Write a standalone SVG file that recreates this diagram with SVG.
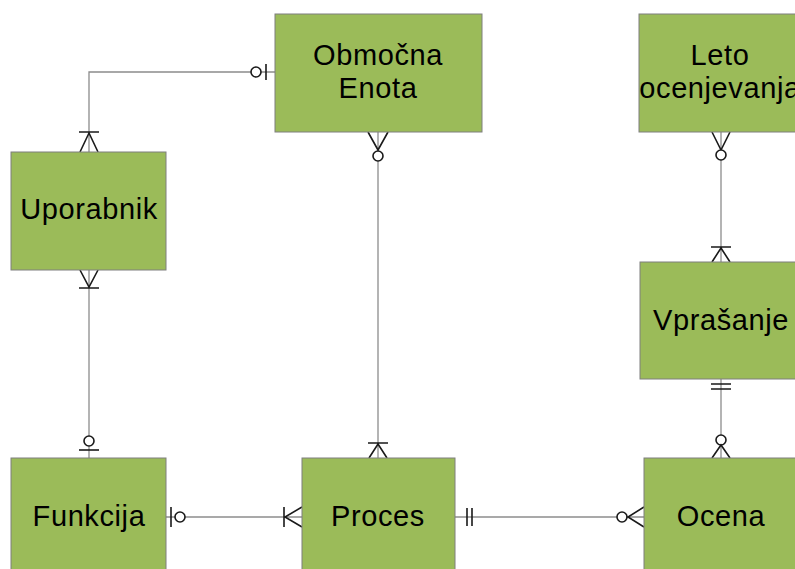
<svg xmlns="http://www.w3.org/2000/svg" width="795" height="569" viewBox="0 0 795 569">
  <style>
    .box { fill: #9bbb59; stroke: #7f7f7f; stroke-width: 1; }
    .lbl { font-family: "Liberation Sans", Arial, sans-serif; font-size: 29px; letter-spacing: 0.6px; fill: #000; text-anchor: middle; }
    .ln { fill: none; stroke: #8c8c8c; stroke-width: 1.3; }
    .mk { fill: none; stroke: #1a1a1a; stroke-width: 1.6; }
    .ring { fill: #fff; stroke: #1a1a1a; stroke-width: 1.6; }
  </style>
  <rect width="795" height="569" fill="#fff"/>

  <!-- relationship lines -->
  <g id="connectors">
    <path class="ln" d="M89,152 V72 H275"/>
    <path class="ln" d="M378,132 V458"/>
    <path class="ln" d="M89,270 V458"/>
    <path class="ln" d="M166,517 H302"/>
    <path class="ln" d="M455,517 H644"/>
    <path class="ln" d="M721,132 V262"/>
    <path class="ln" d="M721,379 V458"/>

    <!-- Uporabnik – Območna Enota -->
    <path class="mk" d="M266,64 V80"/>
    <circle class="ring" cx="256" cy="72" r="5"/>
    <path class="mk" d="M79,132 H99 M80,152 L89,133 L98,152"/>

    <!-- Območna Enota – Proces -->
    <path class="mk" d="M368,132 L378,150 L388,132"/>
    <circle class="ring" cx="378" cy="156" r="5"/>
    <path class="mk" d="M368,443 H388 M369,458 L378,444 L387,458"/>

    <!-- Uporabnik – Funkcija -->
    <path class="mk" d="M80,270 L89,287 L98,270 M79,288 H99"/>
    <circle class="ring" cx="89" cy="441" r="5"/>
    <path class="mk" d="M79,450 H99"/>

    <!-- Funkcija – Proces -->
    <path class="mk" d="M171,507 V527"/>
    <circle class="ring" cx="180" cy="517" r="5"/>
    <path class="mk" d="M284,507 V527 M302,507 L285,517 L302,527"/>

    <!-- Proces – Ocena -->
    <path class="mk" d="M467,508 V526 M472,508 V526"/>
    <circle class="ring" cx="622" cy="517" r="5"/>
    <path class="mk" d="M644,507 L628,517 L644,527"/>

    <!-- Leto ocenjevanja – Vprašanje -->
    <path class="mk" d="M712,132 L721,150 L730,132"/>
    <circle class="ring" cx="721" cy="155" r="5"/>
    <path class="mk" d="M711,247 H731 M712,262 L721,248 L730,262"/>

    <!-- Vprašanje – Ocena -->
    <path class="mk" d="M711,384 H731 M711,389 H731"/>
    <circle class="ring" cx="721" cy="440" r="5"/>
    <path class="mk" d="M712,458 L721,445 L730,458"/>
  </g>

  <g id="obmocna-enota">
    <rect class="box" x="275" y="14" width="207" height="118"/>
    <text class="lbl" x="378" y="65">Območna</text>
    <text class="lbl" x="378" y="98">Enota</text>
  </g>
  <g id="leto-ocenjevanja">
    <rect class="box" x="639" y="14" width="166" height="118"/>
    <text class="lbl" x="720" y="65">Leto</text>
    <text class="lbl" x="720" y="98">ocenjevanja</text>
  </g>
  <g id="uporabnik">
    <rect class="box" x="11" y="152" width="155" height="118"/>
    <text class="lbl" x="89" y="219">Uporabnik</text>
  </g>
  <g id="vprasanje">
    <rect class="box" x="640" y="262" width="165" height="117"/>
    <text class="lbl" x="721" y="330">Vprašanje</text>
  </g>
  <g id="funkcija">
    <rect class="box" x="11" y="458" width="155" height="120"/>
    <text class="lbl" x="89" y="526">Funkcija</text>
  </g>
  <g id="proces">
    <rect class="box" x="302" y="458" width="153" height="120"/>
    <text class="lbl" x="378" y="526">Proces</text>
  </g>
  <g id="ocena">
    <rect class="box" x="644" y="458" width="160" height="120"/>
    <text class="lbl" x="721" y="526">Ocena</text>
  </g>
</svg>
